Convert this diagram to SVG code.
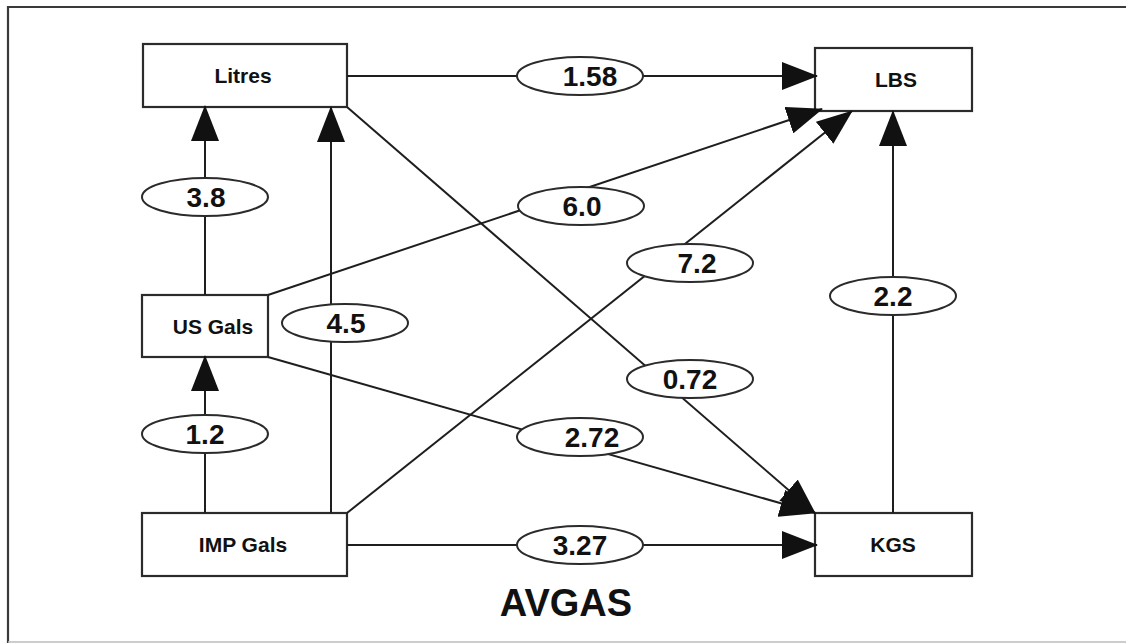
<svg xmlns="http://www.w3.org/2000/svg" width="1126" height="643" viewBox="0 0 1126 643">
<style>
.box{fill:#fff;stroke:#2b2b2b;stroke-width:2.2}
.lbl{fill:#fff;stroke:#2b2b2b;stroke-width:2}
.edge{stroke:#1e1e1e;stroke-width:2;fill:none;marker-end:url(#arr)}
.nt{font-family:"Liberation Sans",Arial,sans-serif;font-weight:bold;font-size:21px;fill:#111;text-anchor:middle}
.et{font-family:"Liberation Sans",Arial,sans-serif;font-weight:bold;font-size:28px;fill:#111;text-anchor:middle}
.title{font-family:"Liberation Sans",Arial,sans-serif;font-weight:bold;font-size:38px;fill:#111;text-anchor:middle}
</style>
<defs>
<marker id="arr" viewBox="0 0 36 28" markerWidth="36" markerHeight="28" refX="35" refY="14" orient="auto" markerUnits="userSpaceOnUse">
<path d="M0,0 L36,14 L0,28 z" fill="#111"/>
</marker>
</defs>
<rect width="1126" height="643" fill="#fff"/>
<g id="frame">
<line x1="7" y1="7" x2="1126" y2="7" stroke="#3a3a3a" stroke-width="2.2"/>
<line x1="8" y1="6" x2="8" y2="643" stroke="#3a3a3a" stroke-width="2.2"/>
<line x1="8" y1="642" x2="1126" y2="642" stroke="#bdbdbd" stroke-width="1.5"/>
</g>
<g id="node-litres"><rect class="box" x="143" y="44" width="204" height="63"/><text class="nt" x="243" y="83">Litres</text></g>
<g id="node-lbs"><rect class="box" x="815" y="48" width="157" height="63"/><text class="nt" x="896" y="87">LBS</text></g>
<g id="node-usgals"><rect class="box" x="142" y="295" width="126" height="62"/><text class="nt" x="213" y="334">US Gals</text></g>
<g id="node-impgals"><rect class="box" x="142" y="513" width="205" height="63"/><text class="nt" x="243" y="552">IMP Gals</text></g>
<g id="node-kgs"><rect class="box" x="815" y="513" width="157" height="63"/><text class="nt" x="893" y="552">KGS</text></g>
<g id="connectors">
<line class="edge" x1="347" y1="76" x2="817" y2="76"/>
<line class="edge" x1="205" y1="295" x2="205" y2="106"/>
<line class="edge" x1="205" y1="513" x2="205" y2="356"/>
<line class="edge" x1="331" y1="513" x2="331" y2="107"/>
<line class="edge" x1="268" y1="295" x2="822" y2="109"/>
<line class="edge" x1="347" y1="513" x2="852" y2="111"/>
<line class="edge" x1="347" y1="107" x2="815" y2="513"/>
<line class="edge" x1="268" y1="357" x2="815" y2="513"/>
<line class="edge" x1="347" y1="545" x2="817" y2="545"/>
<line class="edge" x1="893" y1="513" x2="893" y2="111"/>
</g>
<g id="edge-labels">
<g id="lbl-158"><ellipse class="lbl" cx="580" cy="76" rx="63" ry="19"/><text class="et" x="590" y="86">1.58</text></g>
<g id="lbl-38"><ellipse class="lbl" cx="205" cy="197" rx="63" ry="19"/><text class="et" x="206" y="207">3.8</text></g>
<g id="lbl-60"><ellipse class="lbl" cx="581" cy="206" rx="63" ry="19"/><text class="et" x="582" y="216">6.0</text></g>
<g id="lbl-72"><ellipse class="lbl" cx="690" cy="263" rx="63" ry="19"/><text class="et" x="697" y="273">7.2</text></g>
<g id="lbl-45"><ellipse class="lbl" cx="345" cy="323" rx="63" ry="19"/><text class="et" x="346" y="333">4.5</text></g>
<g id="lbl-22"><ellipse class="lbl" cx="893" cy="296" rx="63" ry="19"/><text class="et" x="893" y="306">2.2</text></g>
<g id="lbl-072"><ellipse class="lbl" cx="690" cy="379" rx="63" ry="19"/><text class="et" x="690" y="389">0.72</text></g>
<g id="lbl-12"><ellipse class="lbl" cx="205" cy="434" rx="63" ry="19"/><text class="et" x="205" y="444">1.2</text></g>
<g id="lbl-272"><ellipse class="lbl" cx="580" cy="437" rx="63" ry="19"/><text class="et" x="592" y="447">2.72</text></g>
<g id="lbl-327"><ellipse class="lbl" cx="580" cy="545" rx="63" ry="19"/><text class="et" x="580" y="555">3.27</text></g>
</g>
<text class="title" x="566" y="616">AVGAS</text>
</svg>
